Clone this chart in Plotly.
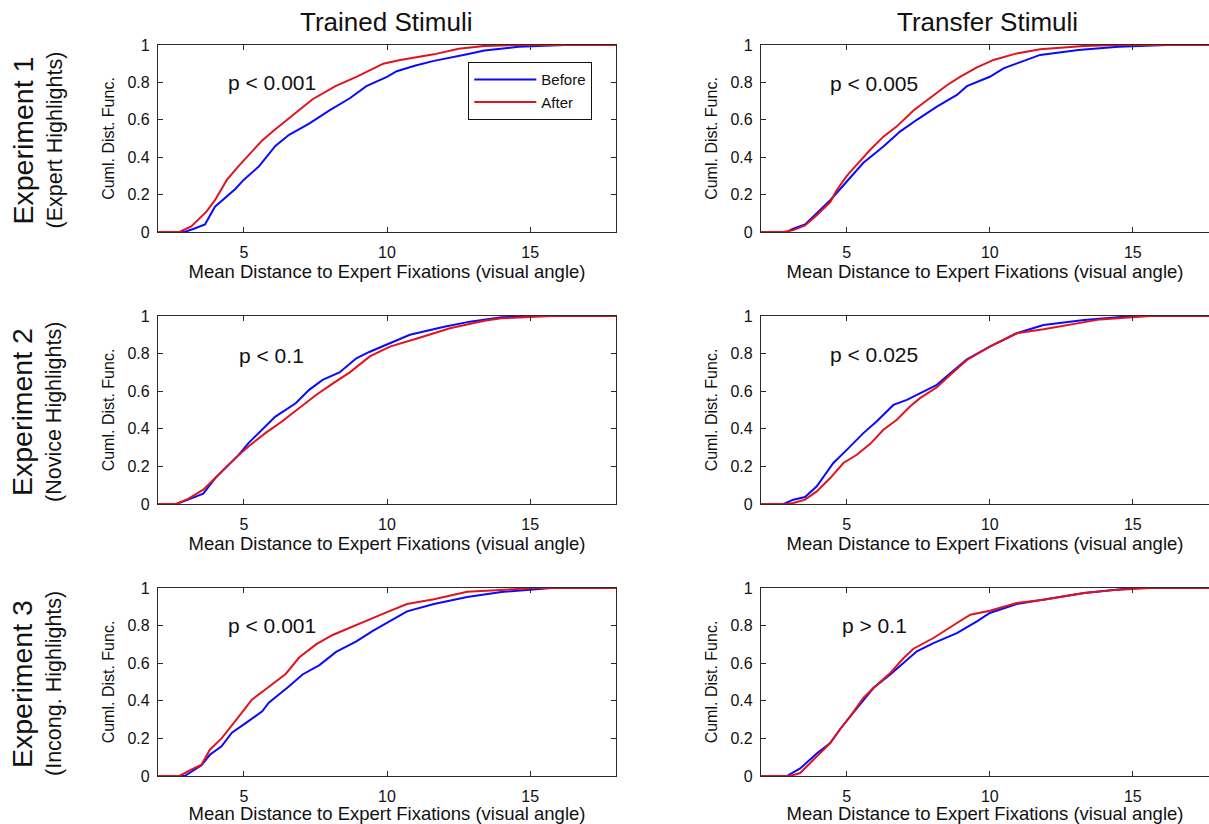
import plotly.graph_objects as go

# ---------------- data ----------------
e1_tr_before_x = [2, 2.93, 3.3, 3.64, 3.99, 4.34, 4.7, 5.0, 5.52, 6.1, 6.58, 7.28, 7.99, 8.7, 9.28, 10.0, 10.34, 11.0, 11.64, 12.8, 13.4, 14.6, 16.2, 18]
e1_tr_before_y = [0, 0, 0.02, 0.04, 0.135, 0.18, 0.23, 0.28, 0.35, 0.46, 0.52, 0.58, 0.65, 0.715, 0.78, 0.83, 0.86, 0.89, 0.915, 0.95, 0.97, 0.99, 1.0, 1.0]
e1_tr_after_x = [2, 2.75, 3.16, 3.7, 3.99, 4.41, 4.8, 5.16, 5.64, 6.1, 6.58, 7.4, 8.2, 8.93, 9.87, 10.46, 11.64, 12.5, 13.4, 14.6, 18]
e1_tr_after_y = [0, 0, 0.03, 0.11, 0.17, 0.28, 0.35, 0.41, 0.49, 0.55, 0.61, 0.71, 0.78, 0.83, 0.90, 0.92, 0.95, 0.98, 0.995, 1.0, 1.0]

e1_tf_before_x = [2, 2.9, 3.13, 3.54, 3.95, 4.42, 5.0, 5.58, 6.28, 6.86, 7.45, 8.15, 8.85, 9.2, 10.0, 10.48, 11.76, 13.1, 14.5, 16.2, 18]
e1_tf_before_y = [0, 0, 0.018, 0.04, 0.10, 0.17, 0.27, 0.37, 0.457, 0.537, 0.60, 0.67, 0.733, 0.78, 0.83, 0.875, 0.947, 0.973, 0.99, 1.0, 1.0]
e1_tf_after_x = [2, 2.78, 3.13, 3.54, 3.95, 4.42, 4.65, 5.0, 5.35, 5.82, 6.28, 6.75, 7.33, 7.91, 8.5, 8.96, 9.55, 10.13, 10.94, 11.76, 13.3, 14.5, 18]
e1_tf_after_y = [0, 0, 0.01, 0.035, 0.09, 0.16, 0.225, 0.30, 0.36, 0.44, 0.51, 0.565, 0.65, 0.715, 0.785, 0.83, 0.88, 0.92, 0.955, 0.977, 0.995, 1.0, 1.0]

e2_tr_before_x = [2, 2.64, 3.05, 3.58, 4.0, 4.46, 4.81, 5.16, 5.4, 5.75, 6.1, 6.81, 7.28, 7.75, 8.34, 8.93, 9.4, 10.1, 10.8, 12.0, 12.9, 14.0, 15.2, 18]
e2_tr_before_y = [0, 0, 0.023, 0.055, 0.138, 0.21, 0.26, 0.324, 0.36, 0.41, 0.465, 0.536, 0.607, 0.66, 0.70, 0.775, 0.81, 0.855, 0.90, 0.943, 0.97, 0.993, 1.0, 1.0]
e2_tr_after_x = [2, 2.64, 3.05, 3.58, 4.0, 4.46, 4.81, 5.16, 5.75, 6.34, 6.93, 7.52, 8.1, 8.7, 9.4, 10.1, 11.05, 12.2, 13.4, 14.0, 15.75, 18]
e2_tr_after_y = [0, 0, 0.027, 0.076, 0.138, 0.21, 0.26, 0.306, 0.377, 0.44, 0.51, 0.58, 0.64, 0.70, 0.785, 0.837, 0.88, 0.935, 0.975, 0.988, 1.0, 1.0]

e2_tf_before_x = [2, 2.79, 3.13, 3.54, 3.95, 4.53, 5.0, 5.58, 6.05, 6.63, 7.1, 7.45, 8.15, 8.62, 9.2, 10.0, 10.94, 11.88, 13.3, 15.0, 18]
e2_tf_before_y = [0, 0, 0.023, 0.037, 0.094, 0.218, 0.288, 0.377, 0.44, 0.527, 0.554, 0.58, 0.634, 0.696, 0.77, 0.837, 0.908, 0.952, 0.979, 1.0, 1.0]
e2_tf_after_x = [2, 2.9, 3.13, 3.54, 3.95, 4.42, 4.88, 5.35, 5.82, 6.28, 6.75, 7.21, 7.56, 8.15, 8.62, 9.2, 10.0, 10.94, 11.88, 12.81, 13.86, 15.6, 18]
e2_tf_after_y = [0, 0, 0.005, 0.023, 0.067, 0.138, 0.218, 0.262, 0.32, 0.395, 0.448, 0.519, 0.563, 0.621, 0.687, 0.766, 0.837, 0.908, 0.929, 0.952, 0.982, 1.0, 1.0]

e3_tr_before_x = [2, 2.93, 3.52, 3.81, 4.22, 4.58, 5.05, 5.64, 5.87, 6.58, 7.05, 7.64, 8.22, 8.93, 9.52, 10.0, 10.7, 11.64, 12.8, 14.0, 15.75, 18]
e3_tr_before_y = [0, 0, 0.057, 0.113, 0.158, 0.23, 0.28, 0.344, 0.39, 0.477, 0.54, 0.59, 0.66, 0.716, 0.773, 0.814, 0.876, 0.915, 0.952, 0.979, 1.0, 1.0]
e3_tr_after_x = [2, 2.75, 3.16, 3.52, 3.81, 4.22, 4.69, 5.05, 5.28, 5.75, 6.1, 6.46, 6.93, 7.52, 8.1, 8.93, 10.0, 10.7, 11.64, 12.8, 14.0, 15.2, 18]
e3_tr_after_y = [0, 0, 0.034, 0.06, 0.14, 0.20, 0.29, 0.36, 0.406, 0.46, 0.50, 0.543, 0.63, 0.70, 0.75, 0.805, 0.872, 0.915, 0.94, 0.98, 0.99, 1.0, 1.0]

e3_tf_before_x = [2, 2.9, 3.37, 3.95, 4.42, 4.77, 5.12, 5.58, 5.93, 6.52, 6.98, 7.45, 8.03, 8.85, 9.55, 10.0, 10.94, 11.88, 13.3, 15.0, 18]
e3_tf_before_y = [0, 0, 0.04, 0.12, 0.175, 0.25, 0.317, 0.406, 0.468, 0.54, 0.60, 0.663, 0.707, 0.76, 0.823, 0.867, 0.915, 0.938, 0.973, 1.0, 1.0]
e3_tf_after_x = [2, 3.02, 3.37, 3.95, 4.42, 4.77, 5.12, 5.58, 5.93, 6.52, 6.98, 7.33, 8.03, 8.85, 9.32, 10.0, 10.94, 11.88, 13.3, 14.4, 15.6, 18]
e3_tf_after_y = [0, 0, 0.016, 0.105, 0.175, 0.25, 0.317, 0.415, 0.468, 0.548, 0.626, 0.677, 0.734, 0.814, 0.858, 0.879, 0.92, 0.938, 0.973, 0.99, 1.0, 1.0]

p_labels = ["p < 0.001", "p < 0.005", "p < 0.1", "p < 0.025", "p < 0.001", "p > 0.1"]
column_titles = ["Trained Stimuli", "Transfer Stimuli"]
row_titles = ["Experiment 1", "Experiment 2", "Experiment 3"]
row_subtitles = ["(Expert Highlights)", "(Novice Highlights)", "(Incong. Highlights)"]
x_title = "Mean Distance to Expert Fixations (visual angle)"
y_title = "Cuml. Dist. Func."
x_ticks = [5, 10, 15]
y_ticks = [0, 0.2, 0.4, 0.6, 0.8, 1]

# ---------------- layout geometry ----------------
W, H = 1209, 824
FONT = "Liberation Sans, Arial, Helvetica, sans-serif"
BLUE = "#0a0aff"
RED = "#e0141c"
AX = "#2a2a2a"

col_px = [(158, 616), (761, 1209)]
row_px = [(45, 232), (316, 504), (588, 776)]
x_ranges = [[2, 18], [2, 2 + (1209 - 761) / 28.6]]

panels = [
    (e1_tr_before_x, e1_tr_before_y, e1_tr_after_x, e1_tr_after_y),
    (e1_tf_before_x, e1_tf_before_y, e1_tf_after_x, e1_tf_after_y),
    (e2_tr_before_x, e2_tr_before_y, e2_tr_after_x, e2_tr_after_y),
    (e2_tf_before_x, e2_tf_before_y, e2_tf_after_x, e2_tf_after_y),
    (e3_tr_before_x, e3_tr_before_y, e3_tr_after_x, e3_tr_after_y),
    (e3_tf_before_x, e3_tf_before_y, e3_tf_after_x, e3_tf_after_y),
]
p_pos = [(0.148, 0.797), (0.150, 0.795), (0.173, 0.79), (0.150, 0.795), (0.148, 0.80), (0.177, 0.80)]

fig = go.Figure()
layout = dict(
    width=W, height=H,
    margin=dict(l=0, r=0, t=0, b=0, pad=0, autoexpand=False),
    paper_bgcolor="white", plot_bgcolor="white",
    font=dict(family=FONT, color="#111111"),
    showlegend=True,
    legend=dict(
        x=468 / W, y=1 - 62 / H, xanchor="left", yanchor="top",
        bgcolor="white", bordercolor="#111111", borderwidth=1.3,
        font=dict(size=15, family=FONT, color="#111111"),
        itemwidth=62, tracegroupgap=0,
    ),
)
annotations = []

for i, (bx, by, ax_, ay) in enumerate(panels):
    r, c = divmod(i, 2)
    n = i + 1
    xa = "x" if n == 1 else f"x{n}"
    ya = "y" if n == 1 else f"y{n}"
    fig.add_trace(go.Scatter(x=bx, y=by, mode="lines", name="Before",
                             line=dict(color=BLUE, width=2), xaxis=xa, yaxis=ya,
                             showlegend=(i == 0), hoverinfo="skip"))
    fig.add_trace(go.Scatter(x=ax_, y=ay, mode="lines", name="After",
                             line=dict(color=RED, width=2), xaxis=xa, yaxis=ya,
                             showlegend=(i == 0), hoverinfo="skip"))
    x0, x1 = col_px[c]
    y0, y1 = row_px[r]
    xkey = "xaxis" if n == 1 else f"xaxis{n}"
    ykey = "yaxis" if n == 1 else f"yaxis{n}"
    layout[xkey] = dict(
        domain=[x0 / W, x1 / W], anchor=ya, range=x_ranges[c], automargin=False,
        tickvals=x_ticks, ticks="inside", ticklen=5, tickcolor=AX, tickwidth=1,
        showline=True, linecolor=AX, linewidth=1.2, mirror="ticks",
        showgrid=False, zeroline=False,
        tickfont=dict(size=16, family=FONT, color="#111111"),
        ticklabelstandoff=6,
        title=dict(text=x_title, font=dict(size=18.5, family=FONT, color="#111111"), standoff=2),
    )
    layout[ykey] = dict(
        domain=[1 - y1 / H, 1 - y0 / H], anchor=xa, range=[0, 1], automargin=False,
        tickvals=y_ticks, ticks="inside", ticklen=5, tickcolor=AX, tickwidth=1,
        showline=True, linecolor=AX, linewidth=1.2,
        mirror=("ticks" if c == 0 else False),
        showgrid=False, zeroline=False,
        tickfont=dict(size=16, family=FONT, color="#111111"),
        ticklabelstandoff=4,
        title=dict(text=y_title, font=dict(size=16, family=FONT, color="#111111"), standoff=8),
    )
    px_, py_ = p_pos[i]
    annotations.append(dict(
        text=p_labels[i], xref=f"{xa} domain", yref=f"{ya} domain",
        x=px_, y=py_, xanchor="left", yanchor="middle", showarrow=False,
        font=dict(size=21, family=FONT, color="#111111"),
    ))

for c, t in enumerate(column_titles):
    cx = [386, 987][c]
    annotations.append(dict(text=t, xref="paper", yref="paper", x=cx / W, y=1 - 22 / H,
                            xanchor="center", yanchor="middle", showarrow=False,
                            font=dict(size=26, family=FONT, color="#111111")))

for r in range(3):
    y0, y1 = row_px[r]
    cy = (y0 + y1) / 2 + 2
    annotations.append(dict(text=row_titles[r], xref="paper", yref="paper", x=22 / W, y=1 - cy / H,
                            xanchor="center", yanchor="middle", showarrow=False, textangle=-90,
                            font=dict(size=28.5, family=FONT, color="#111111")))
    annotations.append(dict(text=row_subtitles[r], xref="paper", yref="paper", x=54 / W, y=1 - cy / H,
                            xanchor="center", yanchor="middle", showarrow=False, textangle=-90,
                            font=dict(size=21.5, family=FONT, color="#111111")))

layout["annotations"] = annotations
fig.update_layout(**layout)
fig.write_html(
    "out.html",
    config={"displayModeBar": False},
    post_script="document.body.style.margin='0';document.body.style.padding='0';document.body.style.overflow='hidden';",
)
